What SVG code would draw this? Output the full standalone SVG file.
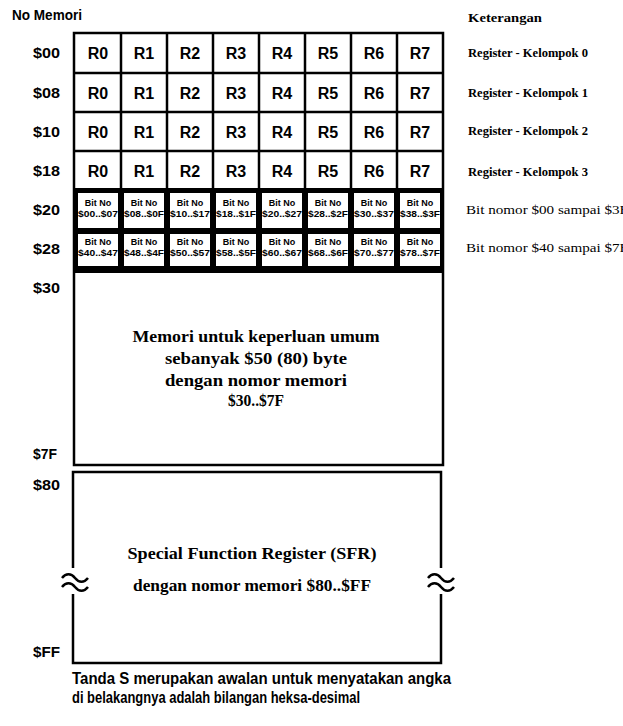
<svg xmlns="http://www.w3.org/2000/svg" width="623" height="726" viewBox="0 0 623 726">
<style>
.bg{fill:#fff}
.ln{stroke:#000;stroke-width:2.5;fill:none}
.gl{stroke:#000;stroke-width:2.5;fill:none}
.lbl{font-family:"Liberation Sans",Arial,sans-serif;font-weight:bold;font-size:15px;fill:#000}
.reg{font-family:"Liberation Sans",Arial,sans-serif;font-weight:bold;font-size:16px;fill:#000;text-anchor:middle}
.bit{font-family:"Liberation Sans",Arial,sans-serif;font-weight:bold;font-size:9px;fill:#000;text-anchor:middle}
.note{font-family:"Liberation Serif","Times New Roman",serif;font-weight:bold;font-size:12.5px;fill:#000}
.note2{font-family:"Liberation Serif","Times New Roman",serif;font-weight:normal;font-size:12.5px;fill:#000}
.mid{font-family:"Liberation Serif","Times New Roman",serif;font-weight:bold;font-size:17px;fill:#000;text-anchor:middle}
.foot{font-family:"Liberation Sans",Arial,sans-serif;font-weight:bold;font-size:16px;fill:#000}
</style>
<rect class="bg" x="0" y="0" width="623" height="726"/>

<g id="headers">
<text class="lbl" x="12" y="20" font-size="13" textLength="70" lengthAdjust="spacingAndGlyphs">No Memori</text>
<text class="note" x="468" y="22" textLength="74" lengthAdjust="spacingAndGlyphs">Keterangan</text>
</g>

<g id="addresses">
<text class="lbl" x="33" y="58" textLength="27" lengthAdjust="spacingAndGlyphs">$00</text>
<text class="lbl" x="33" y="98" textLength="27" lengthAdjust="spacingAndGlyphs">$08</text>
<text class="lbl" x="33" y="137" textLength="27" lengthAdjust="spacingAndGlyphs">$10</text>
<text class="lbl" x="33" y="176" textLength="27" lengthAdjust="spacingAndGlyphs">$18</text>
<text class="lbl" x="33" y="215" textLength="27" lengthAdjust="spacingAndGlyphs">$20</text>
<text class="lbl" x="33" y="254" textLength="27" lengthAdjust="spacingAndGlyphs">$28</text>
<text class="lbl" x="33" y="293" textLength="27" lengthAdjust="spacingAndGlyphs">$30</text>
<text class="lbl" x="33" y="459" textLength="24" lengthAdjust="spacingAndGlyphs">$7F</text>
<text class="lbl" x="33" y="490" textLength="27" lengthAdjust="spacingAndGlyphs">$80</text>
<text class="lbl" x="33" y="657" textLength="27" lengthAdjust="spacingAndGlyphs">$FF</text>
</g>

<g id="register-banks">
<g class="gl">
<line x1="74" y1="73" x2="443" y2="73"/>
<line x1="74" y1="112" x2="443" y2="112"/>
<line x1="74" y1="151" x2="443" y2="151"/>
<line x1="121" y1="33" x2="121" y2="190"/>
<line x1="167" y1="33" x2="167" y2="190"/>
<line x1="213" y1="33" x2="213" y2="190"/>
<line x1="259" y1="33" x2="259" y2="190"/>
<line x1="305" y1="33" x2="305" y2="190"/>
<line x1="351" y1="33" x2="351" y2="190"/>
<line x1="397" y1="33" x2="397" y2="190"/>
</g>
<g id="bank0">
<text class="reg" x="98" y="59">R0</text><text class="reg" x="144" y="59">R1</text><text class="reg" x="190" y="59">R2</text><text class="reg" x="236" y="59">R3</text><text class="reg" x="282" y="59">R4</text><text class="reg" x="328" y="59">R5</text><text class="reg" x="374" y="59">R6</text><text class="reg" x="420" y="59">R7</text>
</g>
<g id="bank1">
<text class="reg" x="98" y="99">R0</text><text class="reg" x="144" y="99">R1</text><text class="reg" x="190" y="99">R2</text><text class="reg" x="236" y="99">R3</text><text class="reg" x="282" y="99">R4</text><text class="reg" x="328" y="99">R5</text><text class="reg" x="374" y="99">R6</text><text class="reg" x="420" y="99">R7</text>
</g>
<g id="bank2">
<text class="reg" x="98" y="138">R0</text><text class="reg" x="144" y="138">R1</text><text class="reg" x="190" y="138">R2</text><text class="reg" x="236" y="138">R3</text><text class="reg" x="282" y="138">R4</text><text class="reg" x="328" y="138">R5</text><text class="reg" x="374" y="138">R6</text><text class="reg" x="420" y="138">R7</text>
</g>
<g id="bank3">
<text class="reg" x="98" y="177">R0</text><text class="reg" x="144" y="177">R1</text><text class="reg" x="190" y="177">R2</text><text class="reg" x="236" y="177">R3</text><text class="reg" x="282" y="177">R4</text><text class="reg" x="328" y="177">R5</text><text class="reg" x="374" y="177">R6</text><text class="reg" x="420" y="177">R7</text>
</g>
</g>

<g id="bit-area">
<rect x="74" y="188" width="369" height="85" fill="#000"/>
<g fill="#fff">
<rect x="78" y="193" width="40" height="35"/><rect x="124" y="193" width="40" height="35"/><rect x="170" y="193" width="40" height="35"/><rect x="216" y="193" width="40" height="35"/><rect x="262" y="193" width="40" height="35"/><rect x="308" y="193" width="40" height="35"/><rect x="354" y="193" width="40" height="35"/><rect x="400" y="193" width="40" height="35"/>
<rect x="78" y="234" width="40" height="32"/><rect x="124" y="234" width="40" height="32"/><rect x="170" y="234" width="40" height="32"/><rect x="216" y="234" width="40" height="32"/><rect x="262" y="234" width="40" height="32"/><rect x="308" y="234" width="40" height="32"/><rect x="354" y="234" width="40" height="32"/><rect x="400" y="234" width="40" height="32"/>
</g>
<g id="bit-row-20">
<text class="bit" x="98" y="206">Bit No</text><text class="bit" x="98" y="217" textLength="40" lengthAdjust="spacingAndGlyphs">$00..$07</text>
<text class="bit" x="144" y="206">Bit No</text><text class="bit" x="144" y="217" textLength="40" lengthAdjust="spacingAndGlyphs">$08..$0F</text>
<text class="bit" x="190" y="206">Bit No</text><text class="bit" x="190" y="217" textLength="40" lengthAdjust="spacingAndGlyphs">$10..$17</text>
<text class="bit" x="236" y="206">Bit No</text><text class="bit" x="236" y="217" textLength="40" lengthAdjust="spacingAndGlyphs">$18..$1F</text>
<text class="bit" x="282" y="206">Bit No</text><text class="bit" x="282" y="217" textLength="40" lengthAdjust="spacingAndGlyphs">$20..$27</text>
<text class="bit" x="328" y="206">Bit No</text><text class="bit" x="328" y="217" textLength="40" lengthAdjust="spacingAndGlyphs">$28..$2F</text>
<text class="bit" x="374" y="206">Bit No</text><text class="bit" x="374" y="217" textLength="40" lengthAdjust="spacingAndGlyphs">$30..$37</text>
<text class="bit" x="420" y="206">Bit No</text><text class="bit" x="420" y="217" textLength="40" lengthAdjust="spacingAndGlyphs">$38..$3F</text>
</g>
<g id="bit-row-28">
<text class="bit" x="98" y="245">Bit No</text><text class="bit" x="98" y="256" textLength="40" lengthAdjust="spacingAndGlyphs">$40..$47</text>
<text class="bit" x="144" y="245">Bit No</text><text class="bit" x="144" y="256" textLength="40" lengthAdjust="spacingAndGlyphs">$48..$4F</text>
<text class="bit" x="190" y="245">Bit No</text><text class="bit" x="190" y="256" textLength="40" lengthAdjust="spacingAndGlyphs">$50..$57</text>
<text class="bit" x="236" y="245">Bit No</text><text class="bit" x="236" y="256" textLength="40" lengthAdjust="spacingAndGlyphs">$58..$5F</text>
<text class="bit" x="282" y="245">Bit No</text><text class="bit" x="282" y="256" textLength="40" lengthAdjust="spacingAndGlyphs">$60..$67</text>
<text class="bit" x="328" y="245">Bit No</text><text class="bit" x="328" y="256" textLength="40" lengthAdjust="spacingAndGlyphs">$68..$6F</text>
<text class="bit" x="374" y="245">Bit No</text><text class="bit" x="374" y="256" textLength="40" lengthAdjust="spacingAndGlyphs">$70..$77</text>
<text class="bit" x="420" y="245">Bit No</text><text class="bit" x="420" y="256" textLength="40" lengthAdjust="spacingAndGlyphs">$78..$7F</text>
</g>
</g>

<g id="general-memory">
<rect class="ln" x="74" y="33" width="369" height="432"/>
<text class="mid" x="256" y="342" textLength="247" lengthAdjust="spacingAndGlyphs">Memori untuk keperluan umum</text>
<text class="mid" x="256" y="364" textLength="182" lengthAdjust="spacingAndGlyphs">sebanyak $50 (80) byte</text>
<text class="mid" x="256" y="386" textLength="182" lengthAdjust="spacingAndGlyphs">dengan nomor memori</text>
<text class="mid" x="256" y="406" textLength="56" lengthAdjust="spacingAndGlyphs">$30..$7F</text>
</g>

<g id="sfr">
<path class="ln" d="M73,568 V472 H441 V568 M441,594 V663 H73 V594"/>
<path class="ln" d="M62,578 c4,-5 9,-5 13,0 s9,5 13,0 M62,587 c4,-5 9,-5 13,0 s9,5 13,0"/>
<path class="ln" d="M428,578 c4,-5 9,-5 13,0 s9,5 13,0 M428,587 c4,-5 9,-5 13,0 s9,5 13,0"/>
<text class="mid" x="252" y="559" textLength="249" lengthAdjust="spacingAndGlyphs">Special Function Register (SFR)</text>
<text class="mid" x="252" y="591" textLength="238" lengthAdjust="spacingAndGlyphs">dengan nomor memori $80..$FF</text>
</g>

<g id="notes">
<text class="note" x="468" y="57" textLength="120" lengthAdjust="spacingAndGlyphs">Register - Kelompok 0</text>
<text class="note" x="468" y="97" textLength="120" lengthAdjust="spacingAndGlyphs">Register - Kelompok 1</text>
<text class="note" x="468" y="135" textLength="120" lengthAdjust="spacingAndGlyphs">Register - Kelompok 2</text>
<text class="note" x="468" y="176" textLength="120" lengthAdjust="spacingAndGlyphs">Register - Kelompok 3</text>
<text class="note2" x="466" y="214" textLength="162" lengthAdjust="spacingAndGlyphs">Bit nomor $00 sampai $3F</text>
<text class="note2" x="466" y="252" textLength="162" lengthAdjust="spacingAndGlyphs">Bit nomor $40 sampai $7F</text>
</g>

<g id="footnote">
<text class="foot" x="72" y="684" textLength="379" lengthAdjust="spacingAndGlyphs">Tanda S merupakan awalan untuk menyatakan angka</text>
<text class="foot" x="72" y="703" textLength="288" lengthAdjust="spacingAndGlyphs">di belakangnya adalah bilangan heksa-desimal</text>
</g>
</svg>
